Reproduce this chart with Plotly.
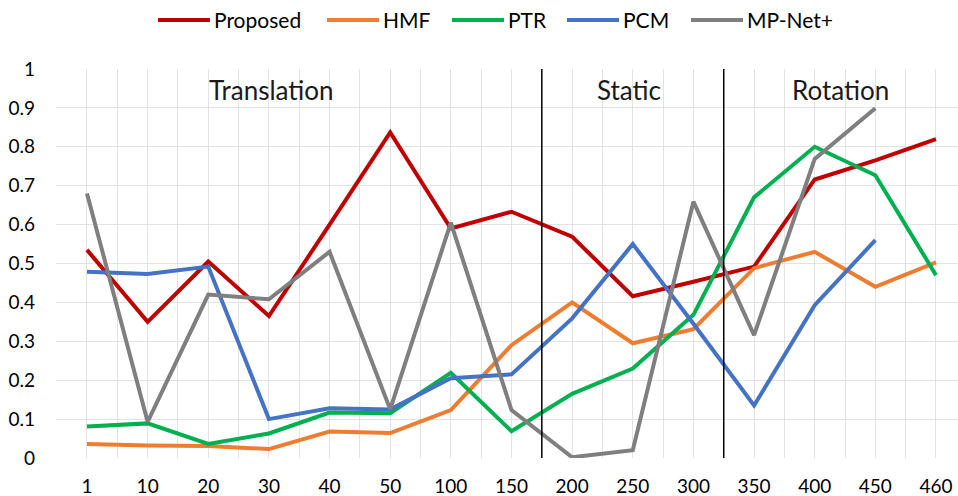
import plotly.graph_objects as go

categories = ["1", "10", "20", "30", "40", "50", "100", "150", "200", "250", "300", "350", "400", "450", "460"]
proposed = [0.535, 0.35, 0.505, 0.365, 0.60, 0.837, 0.59, 0.633, 0.569, 0.416, 0.453, 0.492, 0.716, 0.765, 0.82]
hmf = [0.036, 0.032, 0.031, 0.023, 0.068, 0.064, 0.123, 0.29, 0.40, 0.295, 0.331, 0.488, 0.53, 0.44, 0.503]
ptr = [0.081, 0.089, 0.036, 0.063, 0.117, 0.115, 0.219, 0.069, 0.165, 0.23, 0.368, 0.67, 0.80, 0.727, 0.47]
pcm = [0.479, 0.473, 0.492, 0.10, 0.128, 0.125, 0.205, 0.215, 0.359, 0.55, 0.345, 0.135, 0.393, 0.56, None]
mpnet = [0.68, 0.093, 0.42, 0.408, 0.53, 0.125, 0.605, 0.123, 0.002, 0.02, 0.659, 0.316, 0.769, 0.899, None]

series_names = ["Proposed", "HMF", "PTR", "PCM", "MP-Net+"]
series_values = [proposed, hmf, ptr, pcm, mpnet]
colors = ["#C00000", "#ED7D31", "#00B050", "#4472C4", "#7F7F7F"]

section_labels = ["Translation", "Static", "Rotation"]
section_pos = [3.05, 8.94, 12.43]
dividers = [7.5, 10.5]

FONT = "Lato"
W, H = 958, 496
ML, MR, MT, MB = 56, 0, 69, 38
PW, PH = W - ML - MR, H - MT - MB

def px_x(p):
    return (p - ML) / PW

def px_y(p):
    return (H - MB - p) / PH

xidx = list(range(len(categories)))

fig = go.Figure()
for name, vals, col in zip(series_names, series_values, colors):
    fig.add_trace(go.Scatter(x=xidx, y=vals, mode="lines", name=name,
                             line=dict(color=col, width=4), connectgaps=False,
                             showlegend=False))

for d in dividers:
    fig.add_shape(type="line", x0=d, x1=d, y0=0, y1=1, xref="x", yref="y",
                  line=dict(color="black", width=1.5))

for lab, pos in zip(section_labels, section_pos):
    fig.add_annotation(x=pos, y=0.946, xref="x", yref="y", text=lab, showarrow=False,
                       font=dict(family=FONT, size=26, color="#1a1a1a"))

# custom legend (line sample + label), positions in pixels
legend_starts = [158, 327, 452, 567, 691]
LEG_Y = 20
for name, col, x0 in zip(series_names, colors, legend_starts):
    fig.add_shape(type="line", xref="paper", yref="paper",
                  x0=px_x(x0), x1=px_x(x0 + 52), y0=px_y(LEG_Y), y1=px_y(LEG_Y),
                  line=dict(color=col, width=4))
    fig.add_annotation(xref="paper", yref="paper", x=px_x(x0 + 54), y=px_y(LEG_Y),
                       xanchor="left", yanchor="middle", text=name, showarrow=False,
                       font=dict(family=FONT, size=21, color="#000000"))

fig.update_layout(
    width=W, height=H,
    margin=dict(l=ML, r=MR, t=MT, b=MB, autoexpand=False),
    paper_bgcolor="white", plot_bgcolor="white",
    font=dict(family=FONT, size=19, color="#000000"),
    showlegend=False,
)
fig.update_xaxes(
    range=[-0.511, 14.363], tickmode="array", tickvals=xidx, ticktext=categories,
    showgrid=True, gridcolor="#E3E3E3", gridwidth=1, zeroline=False, showline=False,
    ticks="", ticklabelstandoff=15, automargin=False,
    minor=dict(tickvals=[i - 0.5 for i in xidx] + [14.5], showgrid=True, gridcolor="#E3E3E3", gridwidth=1),
    fixedrange=True,
)
fig.update_yaxes(
    range=[0, 1], tickmode="linear", tick0=0, dtick=0.1,
    showgrid=True, gridcolor="#E3E3E3", gridwidth=1, zeroline=False, showline=False,
    ticks="", ticklabelstandoff=20, automargin=False, fixedrange=True,
)

fig.write_html("out.html", config={"displayModeBar": False},
               post_script="document.body.style.margin='0';document.body.style.overflow='hidden';")
